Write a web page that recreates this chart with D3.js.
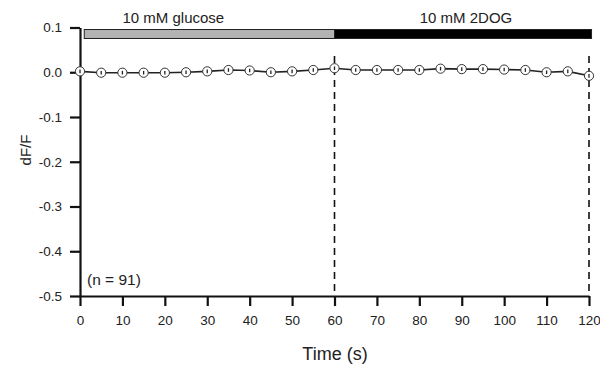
<!DOCTYPE html>
<html>
<head>
<meta charset="utf-8">
<script src="https://cdn.jsdelivr.net/npm/d3@7"></script>
<style>
  body { margin: 0; background: #fff; }
  text { font-family: "Liberation Sans", Arial, sans-serif; fill: #222; }
</style>
</head>
<body>
<div id="chart"></div>
<script>
// time points (s) and mean dF/F
var times = [0, 5, 10, 15, 20, 25, 30, 35, 40, 45, 50, 55, 60,
             65, 70, 75, 80, 85, 90, 95, 100, 105, 110, 115, 120];
var values = [0.002, -0.001, -0.001, -0.001, -0.001, 0.000, 0.002, 0.005, 0.004, 0.000, 0.002, 0.005, 0.009,
              0.005, 0.005, 0.005, 0.005, 0.008, 0.007, 0.007, 0.006, 0.005, 0.000, 0.002, -0.008];
var xTicks = [0, 10, 20, 30, 40, 50, 60, 70, 80, 90, 100, 110, 120];
var yTicks = [0.1, 0.0, -0.1, -0.2, -0.3, -0.4, -0.5];
var treatments = [
  { label: "10 mM glucose", start: 1, end: 60, mid: 22, color: "#b2b2b2" },
  { label: "10 mM 2DOG", start: 60, end: 120.6, mid: 91, color: "#000" }
];
var dashedAt = [60, 120];

var svgWidth = 600, svgHeight = 369;
var svg = d3.select("#chart").append("svg")
  .attr("width", svgWidth)
  .attr("height", svgHeight);

var x = d3.scaleLinear().domain([0, 120]).range([80, 589]);
var y = d3.scaleLinear().domain([-0.5, 0.1]).range([296, 27.5]);

// axes
var xAxis = d3.axisBottom(x).tickValues(xTicks).tickSize(10).tickPadding(9).tickSizeOuter(0);
var yAxis = d3.axisLeft(y).tickValues(yTicks).tickSize(10).tickPadding(8).tickSizeOuter(0);

var gx = svg.append("g").attr("transform", "translate(0," + y(-0.5) + ")").call(xAxis);
var gy = svg.append("g").attr("transform", "translate(" + x(0) + ",0)").call(yAxis);
[gx, gy].forEach(function (g) {
  g.select(".domain").attr("stroke", "#111").attr("stroke-width", 2.2);
  g.selectAll(".tick line").attr("stroke", "#111").attr("stroke-width", 2.2);
  g.selectAll(".tick text").attr("font-size", 13.5).attr("fill", "#222")
    .style("font-family", "Liberation Sans, Arial, sans-serif");
});
gy.selectAll(".tick text").text(function (d) { return d3.format(".1f")(d).replace("−", "-"); });

// treatment bars
svg.selectAll("rect.bar").data(treatments).enter().append("rect")
  .attr("class", "bar")
  .attr("x", function (d) { return x(d.start); })
  .attr("width", function (d) { return x(d.end) - x(d.start); })
  .attr("y", 29.5)
  .attr("height", 9)
  .attr("fill", function (d) { return d.color; })
  .attr("stroke", "#222")
  .attr("stroke-width", 1);

svg.selectAll("text.bar-label").data(treatments).enter().append("text")
  .attr("class", "bar-label")
  .attr("x", function (d) { return x(d.mid); })
  .attr("y", 23)
  .attr("text-anchor", "middle")
  .attr("font-size", 15)
  .text(function (d) { return d.label; });

// dashed lines
svg.selectAll("line.dash").data(dashedAt).enter().append("line")
  .attr("class", "dash")
  .attr("x1", function (d) { return x(d); })
  .attr("x2", function (d) { return x(d); })
  .attr("y1", 56)
  .attr("y2", y(-0.5))
  .attr("stroke", "#111")
  .attr("stroke-width", 1.6)
  .attr("stroke-dasharray", "7,5");

// data line
var pts = times.map(function (t, i) { return [t, values[i]]; });
svg.append("path")
  .datum(pts)
  .attr("fill", "none")
  .attr("stroke", "#222")
  .attr("stroke-width", 1.6)
  .attr("d", d3.line().x(function (d) { return x(d[0]); }).y(function (d) { return y(d[1]); }));

var marks = svg.selectAll("g.pt").data(pts).enter().append("g")
  .attr("class", "pt")
  .attr("transform", function (d) { return "translate(" + x(d[0]) + "," + y(d[1]) + ")"; });
marks.append("circle")
  .attr("r", 4.6)
  .attr("fill", "#fff")
  .attr("stroke", "#333")
  .attr("stroke-width", 1);
marks.append("line")
  .attr("y1", -1.8).attr("y2", 1.8)
  .attr("stroke", "#222")
  .attr("stroke-width", 1.3);

// labels
svg.append("text")
  .attr("x", 87).attr("y", 285)
  .attr("font-size", 15.5)
  .text("(n = 91)");

svg.append("text")
  .attr("transform", "translate(31,150) rotate(-90)")
  .attr("text-anchor", "middle")
  .attr("font-size", 15)
  .text("dF/F");

svg.append("text")
  .attr("x", 335).attr("y", 360)
  .attr("text-anchor", "middle")
  .attr("font-size", 18)
  .text("Time (s)");
</script>
</body>
</html>
